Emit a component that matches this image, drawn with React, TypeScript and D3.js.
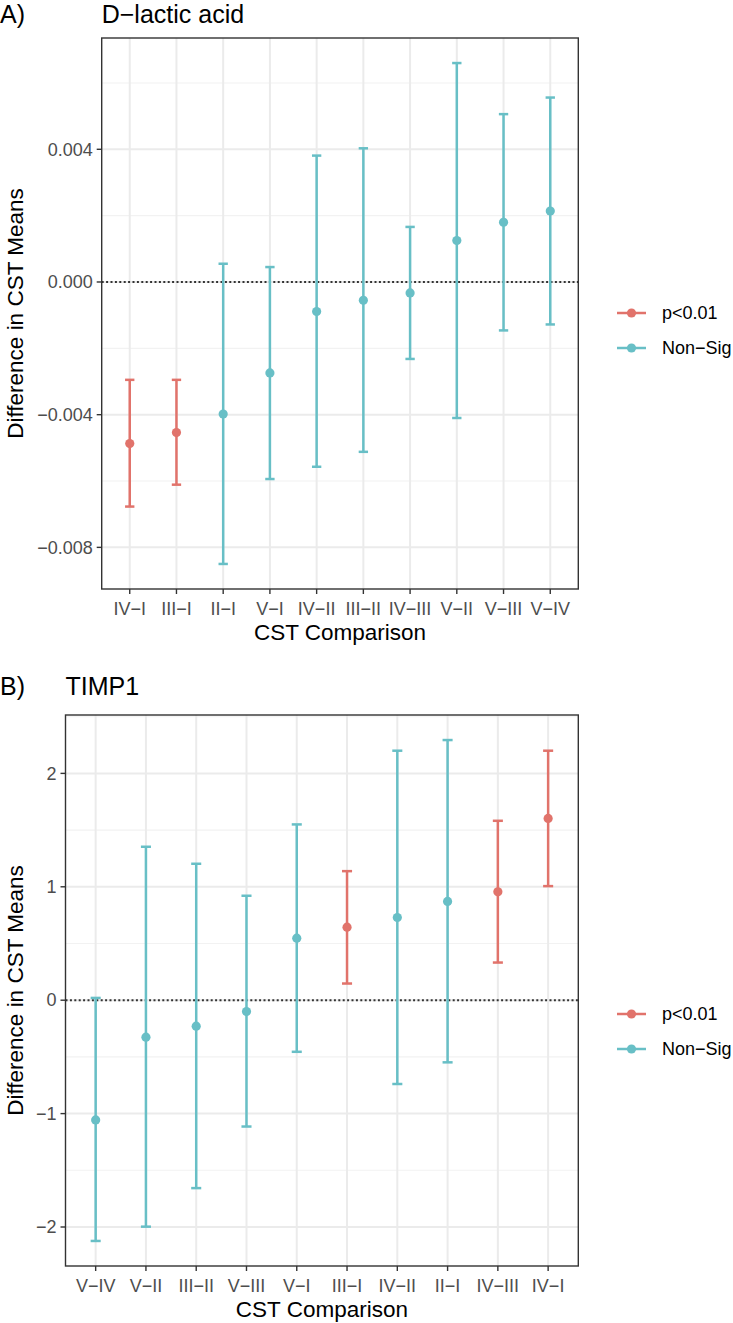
import React from "react";
import * as d3 from "d3";

// ---------- Data: panel A (D-lactic acid) ----------
const dlacticCategories = ["IV−I", "III−I", "II−I", "V−I", "IV−II", "III−II", "IV−III", "V−II", "V−III", "V−IV"];
const dlacticEstimate = [-0.00487, -0.00454, -0.00398, -0.00274, -0.00089, -0.00055, -0.00033, 0.00125, 0.0018, 0.00214];
const dlacticLower = [-0.00677, -0.00611, -0.0085, -0.00594, -0.00557, -0.00512, -0.00232, -0.0041, -0.00146, -0.00128];
const dlacticUpper = [-0.00295, -0.00295, 0.00055, 0.00045, 0.00381, 0.00403, 0.00166, 0.0066, 0.00506, 0.00556];
const dlacticSignificance = ["p<0.01", "p<0.01", "Non−Sig", "Non−Sig", "Non−Sig", "Non−Sig", "Non−Sig", "Non−Sig", "Non−Sig", "Non−Sig"];
const dlacticTicks = [-0.008, -0.004, 0, 0.004];

// ---------- Data: panel B (TIMP1) ----------
const timpCategories = ["V−IV", "V−II", "III−II", "V−III", "V−I", "III−I", "IV−II", "II−I", "IV−III", "IV−I"];
const timpEstimate = [-1.056, -0.326, -0.229, -0.1, 0.547, 0.644, 0.729, 0.871, 0.956, 1.603];
const timpLower = [-2.123, -1.997, -1.657, -1.114, -0.455, 0.147, -0.739, -0.548, 0.332, 1.006];
const timpUpper = [0.02, 1.353, 1.203, 0.921, 1.55, 1.138, 2.2, 2.294, 1.582, 2.2];
const timpSignificance = ["Non−Sig", "Non−Sig", "Non−Sig", "Non−Sig", "Non−Sig", "p<0.01", "Non−Sig", "Non−Sig", "p<0.01", "p<0.01"];
const timpTicks = [-2, -1, 0, 1, 2];

const legendLevels = ["p<0.01", "Non−Sig"];
const legendColors = ["#E1736B", "#68BFC6"];

const FONT = "'Liberation Sans', Arial, Helvetica, sans-serif";

type PanelProps = {
  tag: string;
  title: string;
  categories: string[];
  estimate: number[];
  lower: number[];
  upper: number[];
  significance: string[];
  ticks: number[];
  minorStep: number;
  tickFormat: (v: number) => string;
  left: number;
  right: number;
  top: number;
  bottom: number;
  tagBaseline: number;
  legendY: number;
};

function Panel(p: PanelProps) {
  const color = d3.scaleOrdinal<string, string>().domain(legendLevels).range(legendColors);
  // ggplot discrete expansion: 0.6 units each side
  const x = d3.scalePoint<string>().domain(p.categories).range([p.left, p.right]).padding(0.6);
  const step = x.step();
  const cx = (c: string) => x(c) as number;
  const lo = d3.min(p.lower) as number;
  const hi = d3.max(p.upper) as number;
  const ex = (hi - lo) * 0.05;
  const y = d3.scaleLinear().domain([lo - ex, hi + ex]).range([p.bottom, p.top]);
  const [d0, d1] = y.domain();
  const minor: number[] = [];
  for (let v = Math.ceil(d0 / p.minorStep) * p.minorStep; v <= d1 + 1e-12; v += p.minorStep) {
    const isMajor = p.ticks.some((t) => Math.abs(t - v) < p.minorStep * 0.01);
    if (!isMajor) minor.push(v);
  }
  const capW = step * 0.2;
  const midX = (p.left + p.right) / 2;
  const midY = (p.top + p.bottom) / 2;
  return (
    <g>
      <text x={0} y={p.tagBaseline} fontSize={25} fontFamily={FONT} fill="#000">{p.tag}</text>
      <text x={p.left} y={p.tagBaseline} fontSize={25} fontFamily={FONT} fill="#000">{p.title}</text>
      <rect x={p.left} y={p.top} width={p.right - p.left} height={p.bottom - p.top} fill="#fff" />
      {minor.map((v, i) => (
        <line key={"mn" + i} x1={p.left} x2={p.right} y1={y(v)} y2={y(v)} stroke="#F2F2F2" strokeWidth={1.1} />
      ))}
      {p.ticks.map((v, i) => (
        <line key={"mj" + i} x1={p.left} x2={p.right} y1={y(v)} y2={y(v)} stroke="#EBEBEB" strokeWidth={2} />
      ))}
      {p.categories.map((c) => (
        <line key={"v" + c} x1={cx(c)} x2={cx(c)} y1={p.top} y2={p.bottom} stroke="#EBEBEB" strokeWidth={2} />
      ))}
      <line x1={p.left} x2={p.right} y1={y(0)} y2={y(0)} stroke="#333" strokeWidth={2} strokeDasharray="2,2.4" />
      {p.categories.map((c, i) => {
        const col = color(p.significance[i]);
        const xc = cx(c);
        return (
          <g key={"e" + c}>
            <line x1={xc} x2={xc} y1={y(p.lower[i])} y2={y(p.upper[i])} stroke={col} strokeWidth={2.5} />
            <line x1={xc - capW / 2} x2={xc + capW / 2} y1={y(p.lower[i])} y2={y(p.lower[i])} stroke={col} strokeWidth={2.5} />
            <line x1={xc - capW / 2} x2={xc + capW / 2} y1={y(p.upper[i])} y2={y(p.upper[i])} stroke={col} strokeWidth={2.5} />
            <circle cx={xc} cy={y(p.estimate[i])} r={4.6} fill={col} />
          </g>
        );
      })}
      <rect x={p.left} y={p.top} width={p.right - p.left} height={p.bottom - p.top} fill="none" stroke="#333" strokeWidth={1.4} />
      {p.ticks.map((v, i) => (
        <g key={"yt" + i}>
          <line x1={p.left - 5} x2={p.left} y1={y(v)} y2={y(v)} stroke="#333" strokeWidth={1.4} />
          <text x={p.left - 9} y={y(v)} dy="0.35em" textAnchor="end" fontSize={18} fontFamily={FONT} fill="#4D4D4D">
            {p.tickFormat(v)}
          </text>
        </g>
      ))}
      {p.categories.map((c) => (
        <g key={"xt" + c}>
          <line x1={cx(c)} x2={cx(c)} y1={p.bottom} y2={p.bottom + 5} stroke="#333" strokeWidth={1.4} />
          <text x={cx(c)} y={p.bottom + 26} textAnchor="middle" fontSize={18} fontFamily={FONT} fill="#4D4D4D">{c}</text>
        </g>
      ))}
      <text x={midX} y={p.bottom + 51} textAnchor="middle" fontSize={22.5} fontFamily={FONT} fill="#000">CST Comparison</text>
      <text transform={`translate(23,${midY}) rotate(-90)`} textAnchor="middle" fontSize={22.5} fontFamily={FONT} fill="#000">
        Difference in CST Means
      </text>
      {legendLevels.map((lv, i) => {
        const ly = p.legendY + i * 35;
        return (
          <g key={"lg" + lv}>
            <line x1={617} x2={646} y1={ly} y2={ly} stroke={legendColors[i]} strokeWidth={2.5} />
            <circle cx={631.5} cy={ly} r={4.6} fill={legendColors[i]} />
            <text x={662} y={ly} dy="0.35em" fontSize={18} fontFamily={FONT} fill="#000">{lv}</text>
          </g>
        );
      })}
    </g>
  );
}

export default function App() {
  const fmt3 = d3.format(".3f");
  const fmt0 = d3.format("d");
  return (
    <div style={{ position: "absolute", left: 0, top: 0 }}>
      <svg width={733} height={1323} style={{ display: "block", background: "#fff" }}>
        <Panel
          tag="A)"
          title="D−lactic acid"
          categories={dlacticCategories}
          estimate={dlacticEstimate}
          lower={dlacticLower}
          upper={dlacticUpper}
          significance={dlacticSignificance}
          ticks={dlacticTicks}
          minorStep={0.002}
          tickFormat={(v) => fmt3(v)}
          left={101.7}
          right={578.3}
          top={38}
          bottom={589}
          tagBaseline={23}
          legendY={313}
        />
        <Panel
          tag="B)"
          title="TIMP1"
          categories={timpCategories}
          estimate={timpEstimate}
          lower={timpLower}
          upper={timpUpper}
          significance={timpSignificance}
          ticks={timpTicks}
          minorStep={0.5}
          tickFormat={(v) => fmt0(v)}
          left={65.5}
          right={578.3}
          top={715}
          bottom={1266}
          tagBaseline={695}
          legendY={1014}
        />
      </svg>
    </div>
  );
}
